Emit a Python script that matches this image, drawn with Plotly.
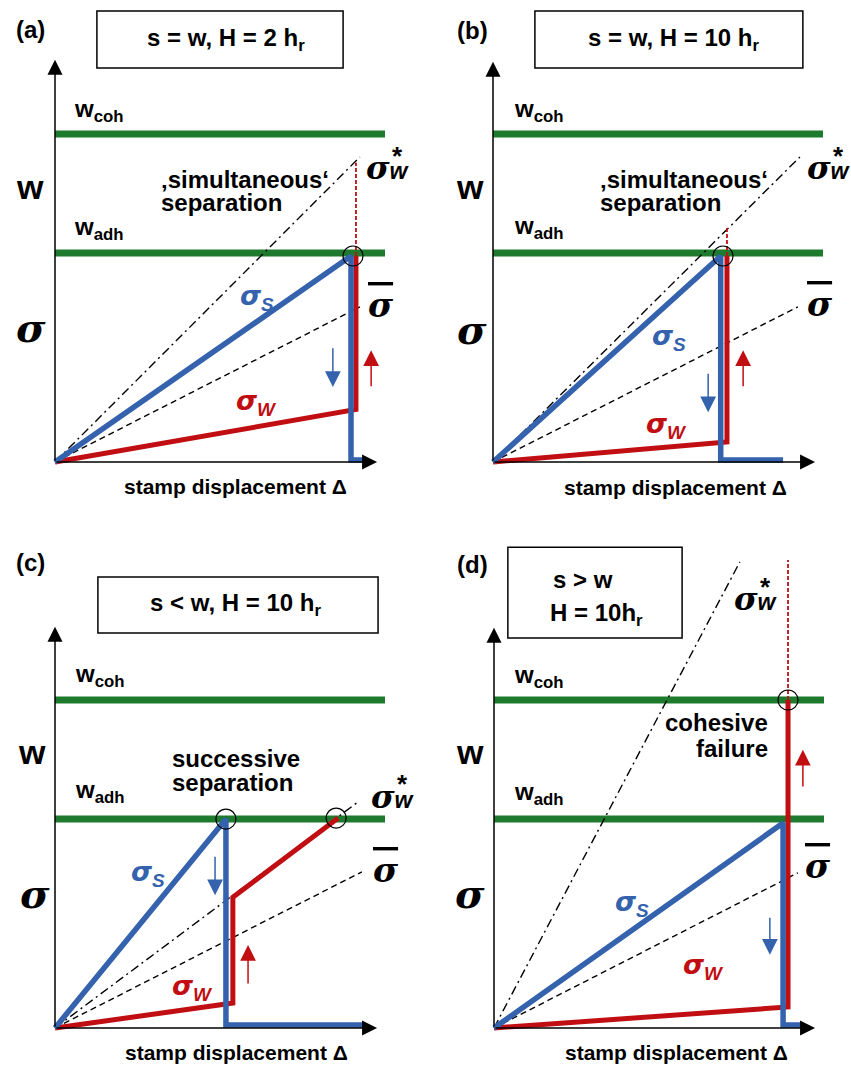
import plotly.graph_objects as go

# ---------------- data (normalised units: x = stamp displacement, y = stress / w) -------------
W_COH = 1.0          # cohesive strength level
W_ADH = 0.637        # adhesive strength level
GREEN_X = [0.0, 1.0]

# (a) s = w, H = 2 h_r
a_sigS_x = [0.0, 0.897, 0.897, 0.933]
a_sigS_y = [0.0, 0.628, 0.006, 0.006]
a_sigW_x = [0.0, 0.912, 0.912]
a_sigW_y = [0.0, 0.160, 0.628]
a_ext_x = [0.912, 0.912]
a_ext_y = [0.628, 0.912]
a_star_x = [0.0, 0.924]
a_star_y = [0.0, 0.930]
a_bar_x = [0.0, 0.924]
a_bar_y = [0.0, 0.473]
a_circ_x = [0.903]
a_circ_y = [0.628]

# (b) s = w, H = 10 h_r
b_sigS_x = [0.0, 0.690, 0.690, 0.879]
b_sigS_y = [0.0, 0.628, 0.006, 0.006]
b_sigW_x = [0.0, 0.709, 0.709]
b_sigW_y = [0.0, 0.061, 0.628]
b_ext_x = [0.709, 0.709]
b_ext_y = [0.628, 0.716]
b_star_x = [0.0, 0.930]
b_star_y = [0.0, 0.930]
b_bar_x = [0.0, 0.924]
b_bar_y = [0.0, 0.473]
b_circ_x = [0.697]
b_circ_y = [0.628]

# (c) s < w, H = 10 h_r
c_sigS_x = [0.0, 0.518, 0.518, 0.933]
c_sigS_y = [0.0, 0.637, 0.009, 0.009]
c_sigW_x = [0.0, 0.539, 0.539, 0.858]
c_sigW_y = [0.0, 0.076, 0.399, 0.640]
c_ext_x = []
c_ext_y = []
c_star_x = [0.0, 0.918]
c_star_y = [0.0, 0.689]
c_bar_x = [0.0, 0.930]
c_bar_y = [0.0, 0.476]
c_circ_x = [0.518, 0.852]
c_circ_y = [0.637, 0.640]

# (d) s > w, H = 10 h_r
d_sigS_x = [0.0, 0.876, 0.876, 0.933]
d_sigS_y = [0.0, 0.625, 0.009, 0.009]
d_sigW_x = [0.0, 0.891, 0.891]
d_sigW_y = [0.0, 0.064, 1.000]
d_ext_x = [0.891, 0.891]
d_ext_y = [1.000, 1.427]
d_star_x = [0.0, 0.745]
d_star_y = [0.0, 1.421]
d_bar_x = [0.0, 0.921]
d_bar_y = [0.0, 0.473]
d_circ_x = [0.891]
d_circ_y = [1.000]

# ---------------- styling ----------------
W, H = 851, 1065
UX, UY = 330.0, 328.0
BLUE = "#3462AD"
RED = "#C10E12"
GREEN = "#1E7A2C"
SANS = "Liberation Sans, Arial, Helvetica, sans-serif"
SIG = "DejaVu Serif, Liberation Serif, serif"
SIGS = "DejaVu Sans, Liberation Sans, sans-serif"

PANELS = [
    dict(key="a", ox=55, oy=462, px=(0, 425.5), py=(0, 532.5)),
    dict(key="b", ox=493, oy=462, px=(425.5, 851), py=(0, 532.5)),
    dict(key="c", ox=55, oy=1028, px=(0, 425.5), py=(532.5, 1065)),
    dict(key="d", ox=494, oy=1028, px=(425.5, 851), py=(532.5, 1065)),
]
SERIES = {
    "a": (a_sigS_x, a_sigS_y, a_sigW_x, a_sigW_y, a_ext_x, a_ext_y, a_star_x, a_star_y, a_bar_x, a_bar_y, a_circ_x, a_circ_y),
    "b": (b_sigS_x, b_sigS_y, b_sigW_x, b_sigW_y, b_ext_x, b_ext_y, b_star_x, b_star_y, b_bar_x, b_bar_y, b_circ_x, b_circ_y),
    "c": (c_sigS_x, c_sigS_y, c_sigW_x, c_sigW_y, c_ext_x, c_ext_y, c_star_x, c_star_y, c_bar_x, c_bar_y, c_circ_x, c_circ_y),
    "d": (d_sigS_x, d_sigS_y, d_sigW_x, d_sigW_y, d_ext_x, d_ext_y, d_star_x, d_star_y, d_bar_x, d_bar_y, d_circ_x, d_circ_y),
}

fig = go.Figure()
layout = dict(width=W, height=H, margin=dict(l=0, r=0, t=0, b=0),
              paper_bgcolor="white", plot_bgcolor="white", showlegend=False)
annotations = []
shapes = []


def refs(i):
    return ("x" if i == 0 else f"x{i+1}"), ("y" if i == 0 else f"y{i+1}")


def text(i, x, y, t, size, color="black", family=SANS, xanchor="center",
         italic=False, bold=True, yanchor="middle"):
    xr, yr = refs(i)
    annotations.append(dict(xref=xr, yref=yr, x=x, y=y, text=t, showarrow=False,
                            xanchor=xanchor, yanchor=yanchor,
                            font=dict(size=size, color=color, family=family,
                                      weight="bold" if bold else "normal",
                                      style="italic" if italic else "normal")))


def arrow(i, x0, y0, x1, y1, color, width, size):
    xr, yr = refs(i)
    annotations.append(dict(xref=xr, yref=yr, axref=xr, ayref=yr, x=x1, y=y1, ax=x0, ay=y0,
                            text="", showarrow=True, arrowhead=2, arrowsize=size,
                            arrowwidth=width, arrowcolor=color))


for i, p in enumerate(PANELS):
    xr, yr = refs(i)
    xname = "xaxis" if i == 0 else f"xaxis{i+1}"
    yname = "yaxis" if i == 0 else f"yaxis{i+1}"
    px0, px1 = p["px"]
    py0, py1 = p["py"]
    layout[xname] = dict(domain=[px0 / W, px1 / W],
                         range=[(px0 - p["ox"]) / UX, (px1 - p["ox"]) / UX],
                         visible=False, fixedrange=True)
    layout[yname] = dict(domain=[1 - py1 / H, 1 - py0 / H],
                         range=[(p["oy"] - py1) / UY, (p["oy"] - py0) / UY],
                         visible=False, fixedrange=True)
    sSx, sSy, sWx, sWy, ex, ey, stx, sty, bx, by, cx, cy = SERIES[p["key"]]
    for lvl in (W_COH, W_ADH):
        fig.add_trace(go.Scatter(x=GREEN_X, y=[lvl, lvl], mode="lines", xaxis=xr, yaxis=yr,
                                 line=dict(color=GREEN, width=7), hoverinfo="skip"))
    fig.add_trace(go.Scatter(x=stx, y=sty, mode="lines", xaxis=xr, yaxis=yr,
                             line=dict(color="black", width=1.4, dash="9px,4px,2px,4px")))
    fig.add_trace(go.Scatter(x=bx, y=by, mode="lines", xaxis=xr, yaxis=yr,
                             line=dict(color="black", width=1.4, dash="6px,4px")))
    if ex:
        fig.add_trace(go.Scatter(x=ex, y=ey, mode="lines", xaxis=xr, yaxis=yr,
                                 line=dict(color=RED, width=1.8, dash="4px,2px")))
    fig.add_trace(go.Scatter(x=sWx, y=sWy, mode="lines", xaxis=xr, yaxis=yr,
                             line=dict(color=RED, width=5)))
    fig.add_trace(go.Scatter(x=sSx, y=sSy, mode="lines", xaxis=xr, yaxis=yr,
                             line=dict(color=BLUE, width=5.5)))
    fig.add_trace(go.Scatter(x=cx, y=cy, mode="markers", xaxis=xr, yaxis=yr,
                             marker=dict(symbol="circle-open", size=20,
                                         color="black", line=dict(width=1.2, color="black"))))

AX_TIPS = {"a": (0.976, 1.226), "b": (0.976, 1.22), "c": (0.976, 1.223), "d": (0.973, 1.22)}
for i, p in enumerate(PANELS):
    xt, yt = AX_TIPS[p["key"]]
    arrow(i, 0, 0, xt, 0, "black", 1.5, 2.0)
    arrow(i, 0, 0, 0, yt, "black", 1.5, 2.0)


def sigma_star(i, x, y):
    # sigma with subscript w as one text, asterisk as superscript above the subscript
    text(i, x, y, f"σ<span style='font-family:{SANS};font-size:23px'>w</span>", 32,
         family=SIG, italic=True, xanchor="left", yanchor="middle")
    text(i, x + 0.102, y + 0.038, "*", 26, family=SANS)


def sigma_bar(i, x, y):
    text(i, x, y, "<span style='text-decoration:overline'>σ</span>", 34,
         family=SIG, italic=True)


def side_labels(i, wx, wy, sx, sy, lx, cohy, adhy):
    text(i, wx, wy, "w", 34)
    text(i, sx, sy, "σ", 40, family=SIG, italic=True)
    text(i, lx, cohy, "w<sub>coh</sub>", 24, xanchor="left")
    text(i, lx, adhy, "w<sub>adh</sub>", 24, xanchor="left")


def sig_sub(i, x, y, sub, color):
    text(i, x, y, f"<span style='font-family:{SIGS}'>σ</span><sub>{sub}</sub>", 27,
         color=color, italic=True)


# (a)
text(0, -0.073, 1.320, "(a)", 24)
shapes.append(dict(type="rect", xref="x", yref="y", x0=0.127, x1=0.873, y0=1.201, y1=1.375,
                   line=dict(color="black", width=1.5)))
text(0, 0.518, 1.287, "s = w, H = 2 h<sub>r</sub>", 24)
side_labels(0, -0.076, 0.838, -0.073, 0.409, 0.052, 1.073, 0.713)
text(0, 0.315, 0.860, "‚simultaneous‘", 24, xanchor="left")
text(0, 0.315, 0.790, "separation", 24, xanchor="left")
sigma_star(0, 0.936, 0.895)
sigma_bar(0, 0.988, 0.478)
sig_sub(0, 0.612, 0.503, "S", BLUE)
sig_sub(0, 0.612, 0.180, "W", RED)
arrow(0, 0.842, 0.351, 0.842, 0.229, BLUE, 1.5, 2.1)
arrow(0, 0.958, 0.226, 0.958, 0.341, RED, 1.5, 2.1)
text(0, 0.548, -0.076, "stamp displacement Δ", 21)

# (b)
text(1, -0.061, 1.317, "(b)", 24)
shapes.append(dict(type="rect", xref="x2", yref="y2", x0=0.127, x1=0.939, y0=1.201, y1=1.375,
                   line=dict(color="black", width=1.5)))
text(1, 0.548, 1.287, "s = w, H = 10 h<sub>r</sub>", 24)
side_labels(1, -0.07, 0.838, -0.064, 0.405, 0.058, 1.073, 0.716)
text(1, 0.318, 0.860, "‚simultaneous‘", 24, xanchor="left")
text(1, 0.318, 0.790, "separation", 24, xanchor="left")
sigma_star(1, 0.945, 0.895)
sigma_bar(1, 0.991, 0.481)
sig_sub(1, 0.533, 0.381, "S", BLUE)
sig_sub(1, 0.527, 0.110, "W", RED)
arrow(1, 0.652, 0.274, 0.652, 0.152, BLUE, 1.5, 2.1)
arrow(1, 0.758, 0.226, 0.758, 0.341, RED, 1.5, 2.1)
text(1, 0.552, -0.079, "stamp displacement Δ", 21)

# (c)
text(2, -0.073, 1.418, "(c)", 24)
shapes.append(dict(type="rect", xref="x3", yref="y3", x0=0.130, x1=0.979, y0=1.204, y1=1.375,
                   line=dict(color="black", width=1.5)))
text(2, 0.548, 1.29, "s &lt; w, H = 10 h<sub>r</sub>", 24)
side_labels(2, -0.07, 0.841, -0.06, 0.409, 0.055, 1.076, 0.72)
text(2, 0.348, 0.823, "successive", 24, xanchor="left")
text(2, 0.348, 0.747, "separation", 24, xanchor="left")
sigma_star(2, 0.950, 0.705)
sigma_bar(2, 1.003, 0.481)
sig_sub(2, 0.282, 0.470, "S", BLUE)
sig_sub(2, 0.418, 0.125, "W", RED)
arrow(2, 0.485, 0.527, 0.485, 0.405, BLUE, 1.5, 2.1)
arrow(2, 0.585, 0.131, 0.585, 0.253, RED, 1.5, 2.1)
text(2, 0.551, -0.076, "stamp displacement Δ", 21)

# (d)
text(3, -0.064, 1.412, "(d)", 24)
shapes.append(dict(type="rect", xref="x4", yref="y4", x0=0.042, x1=0.570, y0=1.189, y1=1.466,
                   line=dict(color="black", width=1.5)))
text(3, 0.173, 1.366, "s &gt; w", 24, xanchor="left")
text(3, 0.164, 1.262, "H = 10h<sub>r</sub>", 24, xanchor="left")
side_labels(3, -0.073, 0.841, -0.073, 0.409, 0.055, 1.073, 0.716)
text(3, 0.836, 0.930, "cohesive", 24, xanchor="right")
text(3, 0.836, 0.851, "failure", 24, xanchor="right")
sigma_star(3, 0.722, 1.308)
sigma_bar(3, 0.982, 0.493)
sig_sub(3, 0.418, 0.381, "S", BLUE)
sig_sub(3, 0.636, 0.189, "W", RED)
arrow(3, 0.836, 0.341, 0.836, 0.223, BLUE, 1.5, 2.1)
arrow(3, 0.936, 0.732, 0.936, 0.848, RED, 1.5, 2.1)
text(3, 0.552, -0.076, "stamp displacement Δ", 21)

layout["annotations"] = annotations
layout["shapes"] = shapes
fig.update_layout(**layout)
fig.write_html("out.html")
